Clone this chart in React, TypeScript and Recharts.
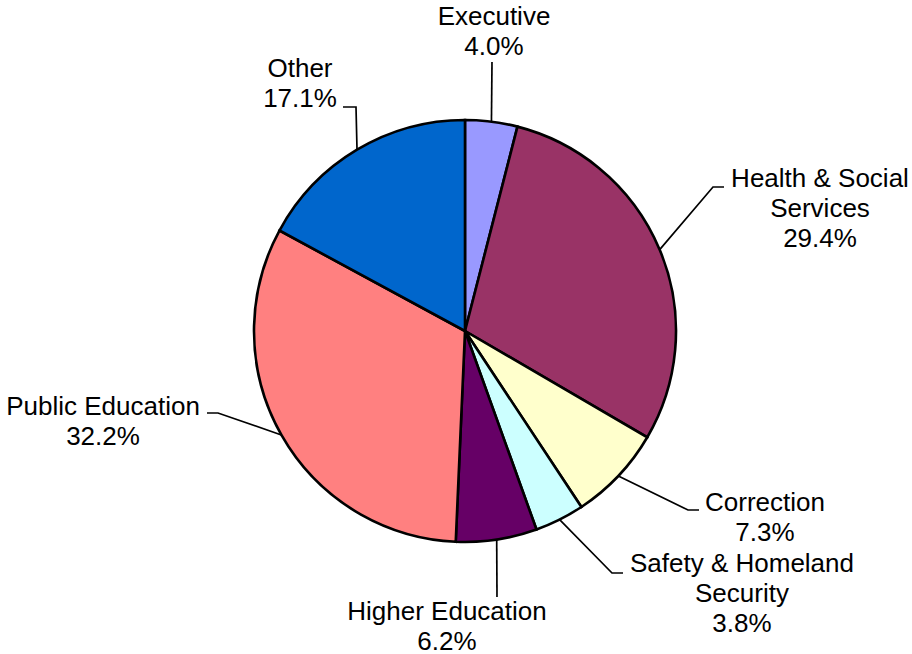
import React from 'react';
import { PieChart, Pie, Cell } from 'recharts';

// budget shares, clockwise from 12 o'clock
const categories = [
  'Executive',
  'Health & Social Services',
  'Correction',
  'Safety & Homeland Security',
  'Higher Education',
  'Public Education',
  'Other',
];
const shares = [4.0, 29.4, 7.3, 3.8, 6.2, 32.2, 17.1];
const sliceColors = ['#9999FF', '#993366', '#FFFFCC', '#CCFFFF', '#660066', '#FF8080', '#0066CC'];

const data = categories.map((name, i) => ({ name, value: shares[i] }));

// label placement relative to pie centre (hand-placed like the original)
// ex/ey: leader elbow, tx: leader tail x, lx/ly: text centre x / first baseline, words: words on first line
const labelLayout: Record<string, { ex: number; ey: number; tx: number; lx: number; ly: number; words: number }> = {
  'Executive': { ex: 27, ey: -269, tx: 27, lx: 29, ly: -306, words: 1 },
  'Health & Social Services': { ex: 248, ey: -144, tx: 259, lx: 355, ly: -144, words: 3 },
  'Correction': { ex: 223, ey: 179, tx: 234, lx: 300, ly: 180, words: 1 },
  'Safety & Homeland Security': { ex: 147, ey: 242, tx: 158, lx: 277, ly: 241, words: 3 },
  'Higher Education': { ex: 32, ey: 266, tx: 32, lx: -18, ly: 289, words: 2 },
  'Public Education': { ex: -247, ey: 82, tx: -258, lx: -362, ly: 84, words: 2 },
  'Other': { ex: -109, ey: -224, tx: -122, lx: -165, ly: -254, words: 1 },
};

const RADIAN = Math.PI / 180;
const LINE_H = 30;

const renderLabel = (props: any) => {
  const { cx, cy, midAngle, outerRadius, name, value } = props;
  const lay = labelLayout[name];
  if (!lay) return null;
  const sx = cx + outerRadius * Math.cos(-midAngle * RADIAN);
  const sy = cy + outerRadius * Math.sin(-midAngle * RADIAN);
  const words = String(name).split(' ');
  const lines = [words.slice(0, lay.words).join(' ')];
  if (words.length > lay.words) lines.push(words.slice(lay.words).join(' '));
  lines.push(`${Number(value).toFixed(1)}%`);
  return (
    <g>
      <polyline
        points={`${sx},${sy} ${cx + lay.ex},${cy + lay.ey} ${cx + lay.tx},${cy + lay.ey}`}
        fill="none"
        stroke="#000"
        strokeWidth={1.7}
      />
      <text
        x={cx + lay.lx}
        y={cy + lay.ly}
        textAnchor="middle"
        fill="#000"
        fontSize={26}
        fontFamily="'Liberation Sans', Arial, sans-serif"
      >
        {lines.map((t, i) => (
          <tspan key={i} x={cx + lay.lx} dy={i === 0 ? 0 : LINE_H}>
            {t}
          </tspan>
        ))}
      </text>
    </g>
  );
};

export default function App() {
  return (
    <div style={{ width: 912, height: 654, background: '#fff' }}>
      <style>{'body{margin:0;}'}</style>
      <PieChart width={912} height={654} margin={{ top: 0, right: 0, bottom: 0, left: 0 }}>
        <Pie
          data={data}
          dataKey="value"
          nameKey="name"
          cx={465}
          cy={331}
          outerRadius={211}
          startAngle={90}
          endAngle={-270}
          stroke="#000"
          strokeWidth={2.6}
          label={renderLabel}
          labelLine={false}
          isAnimationActive={false}
        >
          {data.map((d, i) => (
            <Cell key={d.name} fill={sliceColors[i]} stroke="#000" strokeWidth={2.6} />
          ))}
        </Pie>
      </PieChart>
    </div>
  );
}
